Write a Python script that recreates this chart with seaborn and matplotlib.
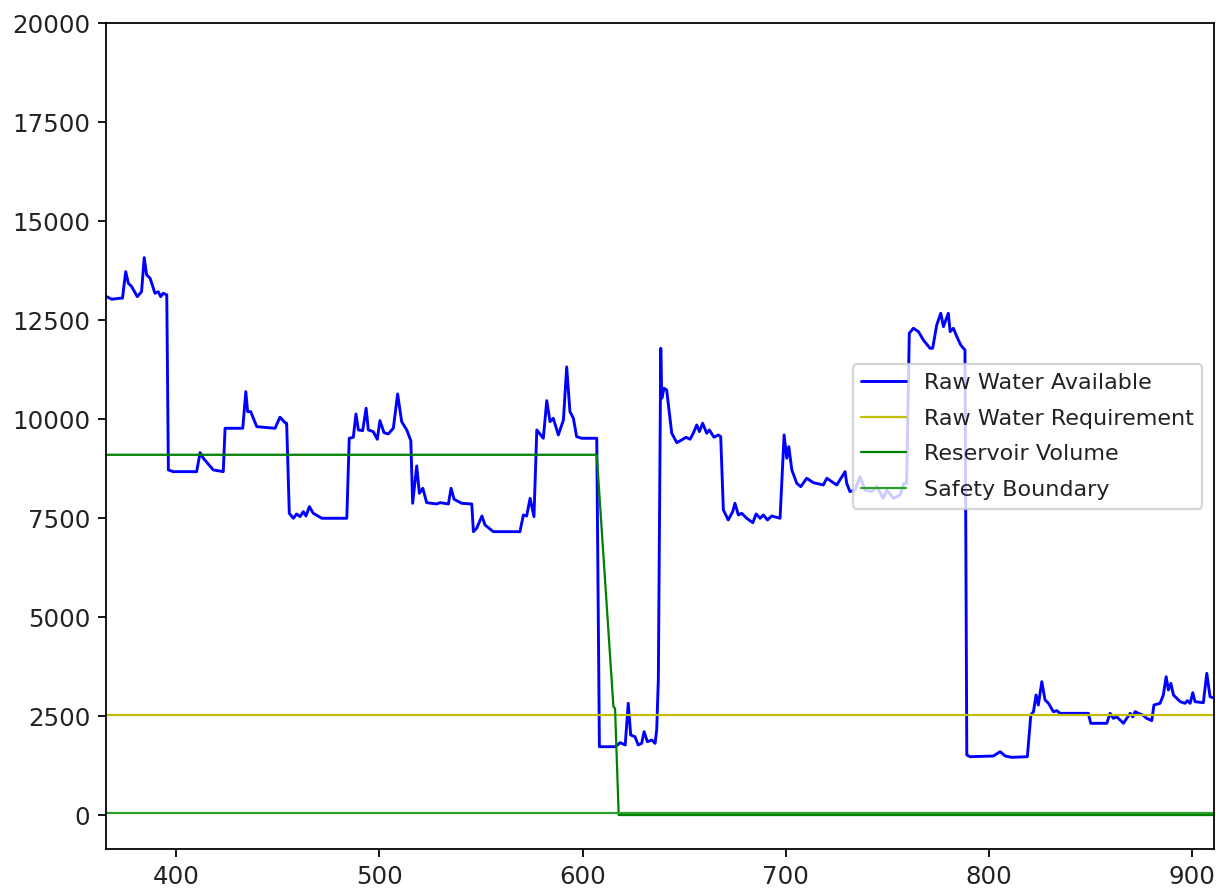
import matplotlib
matplotlib.use("Agg")
import matplotlib.pyplot as plt
import seaborn as sns
import pandas as pd

# ---- data ----
day = [365.8, 368.3, 372.4, 373.6, 375.2, 376.5, 378.1, 380.9, 383.0, 384.3,
       385.5, 387.2, 389.6, 391.2, 392.4, 393.7, 395.4, 396.2, 398.6, 410.1,
       411.8, 413.4, 418.3, 423.2, 424.1, 432.8, 434.3, 435.2, 436.7, 439.7,
       448.7, 451.1, 453.6, 454.4, 455.7, 457.7, 459.3, 461.0, 462.6, 463.9,
       465.6, 467.5, 471.7, 484.0, 485.2, 487.2, 488.5, 489.7, 491.8, 493.5,
       494.6, 497.0, 499.0, 500.3, 502.3, 504.4, 506.9, 509.0, 511.0, 513.5,
       515.5, 516.4, 518.4, 519.7, 521.4, 523.3, 528.2, 529.9, 534.0, 535.3,
       536.8, 540.5, 545.5, 546.3, 547.9, 550.5, 552.0, 556.1, 569.2, 570.9,
       572.5, 574.2, 576.1, 577.5, 580.7, 582.4, 584.0, 585.6, 588.1, 590.6,
       592.2, 593.8, 595.5, 597.1, 599.6, 607.0, 608.3, 616.2, 618.5, 621.0,
       622.5, 623.7, 625.8, 627.4, 629.1, 630.3, 631.9, 634.1, 635.7, 636.5,
       637.3, 638.5, 639.0, 640.1, 641.4, 643.9, 646.4, 648.8, 650.9, 652.9,
       654.5, 656.2, 657.5, 659.1, 661.1, 662.4, 664.7, 666.8, 668.0, 669.3,
       671.7, 673.9, 675.0, 676.7, 678.3, 680.8, 683.8, 685.4, 687.4, 689.0,
       691.0, 693.1, 697.2, 699.2, 700.5, 701.5, 703.0, 705.4, 707.4, 710.3,
       713.6, 718.5, 720.2, 725.1, 729.2, 730.0, 731.6, 734.1, 736.6, 739.0,
       742.3, 744.8, 748.0, 749.7, 753.0, 756.3, 758.2, 759.5, 760.8, 762.8,
       765.3, 767.7, 771.0, 772.3, 774.3, 776.3, 777.6, 778.9, 780.0, 780.9,
       782.5, 784.2, 786.1, 787.4, 788.2, 789.1, 790.7, 802.2, 805.5, 808.0,
       811.2, 818.9, 820.6, 821.9, 823.2, 824.3, 826.0, 827.6, 829.3, 831.7,
       833.4, 835.0, 848.9, 850.1, 858.0, 859.6, 861.2, 862.9, 866.2, 867.8,
       869.5, 870.8, 871.9, 873.5, 875.7, 877.6, 880.1, 881.2, 884.2, 885.8,
       887.2, 888.3, 889.5, 890.8, 894.1, 896.5, 897.6, 899.0, 900.3, 901.4,
       905.5, 907.2, 908.8, 910.4]
raw_available = [13095, 13030, 13055, 13055, 13727, 13433, 13350, 13095, 13220, 14081,
                 13643, 13560, 13180, 13220, 13095, 13180, 13140, 8717, 8674, 8674,
                 9154, 9012, 8717, 8674, 9770, 9770, 10695, 10190, 10190, 9810,
                 9770, 10050, 9912, 9897, 7622, 7496, 7605, 7538, 7663, 7554,
                 7790, 7622, 7496, 7496, 9517, 9543, 10131, 9727, 9710, 10276,
                 9727, 9685, 9492, 9963, 9660, 9626, 9770, 10637, 9937, 9727,
                 9457, 7875, 8818, 8128, 8254, 7891, 7857, 7891, 7857, 8254,
                 7976, 7875, 7857, 7158, 7243, 7554, 7327, 7158, 7158, 7580,
                 7554, 8000, 7538, 9727, 9517, 10468, 9937, 10022, 9601, 9980,
                 11320, 10190, 10022, 9558, 9517, 9517, 1726, 1726, 1827, 1769,
                 2822, 2021, 1978, 1769, 1811, 2105, 1852, 1895, 1811, 2148,
                 3411, 11791, 10528, 10781, 10738, 9644, 9406, 9474, 9543, 9492,
                 9644, 9853, 9685, 9897, 9644, 9727, 9543, 9601, 9558, 7706,
                 7453, 7663, 7875, 7580, 7622, 7496, 7385, 7605, 7496, 7580,
                 7453, 7554, 7496, 9601, 9012, 9306, 8717, 8381, 8295, 8507,
                 8396, 8337, 8507, 8337, 8674, 8381, 8169, 8211, 8548, 8211,
                 8169, 8295, 8000, 8211, 8000, 8085, 8381, 8381, 12170, 12296,
                 12211, 12001, 11791, 11791, 12380, 12675, 12337, 12524, 12675, 12211,
                 12296, 12085, 11875, 11791, 11749, 1516, 1473, 1491, 1600, 1491,
                 1457, 1473, 2527, 2610, 3032, 2779, 3368, 2906, 2822, 2610,
                 2636, 2569, 2569, 2317, 2317, 2569, 2443, 2480, 2317, 2443,
                 2569, 2480, 2610, 2569, 2527, 2443, 2383, 2779, 2822, 3030,
                 3494, 3158, 3327, 3032, 2863, 2822, 2888, 2822, 3090, 2863,
                 2837, 3580, 2989, 2960]

req_day = [365.5, 910.5]
raw_requirement = [2520, 2520]

res_day = [365.5, 607.0, 615.2, 616.0, 617.8, 910.5]
reservoir_volume = [9100, 9100, 2736, 2696, 0, 0]

safe_day = [365.5, 910.5]
safety_boundary = [50, 50]

labels = ["Raw Water Available", "Raw Water Requirement",
          "Reservoir Volume", "Safety Boundary"]

# ---- plot ----
sns.set_style("ticks")
plt.rcParams["font.family"] = ["DejaVu Sans"]

DPI = 160
fig = plt.figure(figsize=(1216 / DPI, 889 / DPI), dpi=DPI)
ax = fig.add_axes([106 / 1216, 39.7 / 889, 1107.5 / 1216, 826 / 889])

df_raw = pd.DataFrame({"day": day, "value": raw_available})
df_req = pd.DataFrame({"day": req_day, "value": raw_requirement})
df_res = pd.DataFrame({"day": res_day, "value": reservoir_volume})
df_safe = pd.DataFrame({"day": safe_day, "value": safety_boundary})

sns.lineplot(data=df_raw, x="day", y="value", ax=ax, color="b", lw=1.3,
             label=labels[0], estimator=None, sort=False)
sns.lineplot(data=df_req, x="day", y="value", ax=ax, color="y", lw=1.0,
             label=labels[1], estimator=None, sort=False)
sns.lineplot(data=df_res, x="day", y="value", ax=ax, color="g", lw=1.0,
             label=labels[2], estimator=None, sort=False)
sns.lineplot(data=df_safe, x="day", y="value", ax=ax, color="#2ca02c", lw=1.0,
             label=labels[3], estimator=None, sort=False)

ax.set_xlim(365.5, 910.5)
ax.set_ylim(-866, 20000)
ax.set_xticks([400, 500, 600, 700, 800, 900])
ax.set_yticks([0, 2500, 5000, 7500, 10000, 12500, 15000, 17500, 20000])
ax.set_xlabel("")
ax.set_ylabel("")
for s in ax.spines.values():
    s.set_visible(True)
    s.set_color("black")
    s.set_linewidth(0.8)
ax.tick_params(colors="black", labelcolor="#222222", labelsize=11,
               length=3.5, width=0.8, direction="out")

leg = ax.legend(loc="center right", fontsize=10, frameon=True, labelspacing=0.7)
leg.get_frame().set_edgecolor("#cccccc")
leg.get_frame().set_alpha(0.8)
for t in leg.get_texts():
    t.set_color("#222222")

fig.savefig("out.png", dpi=DPI)
